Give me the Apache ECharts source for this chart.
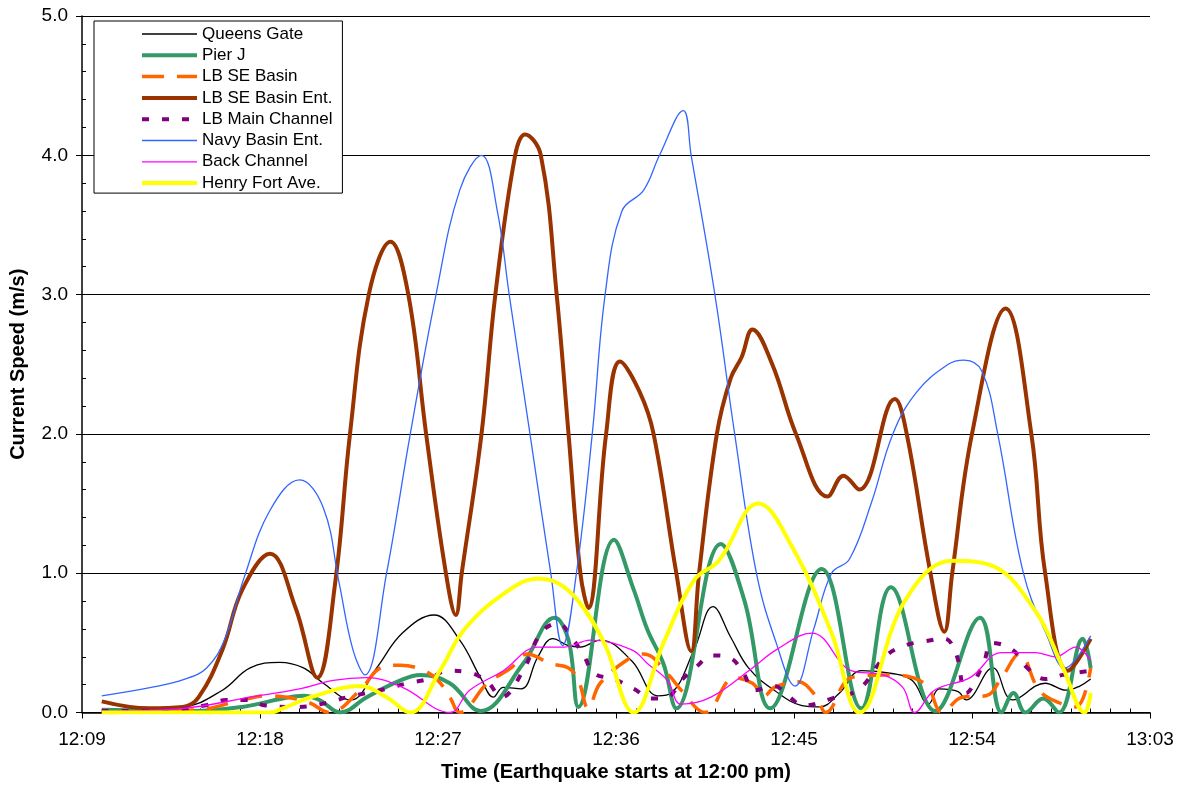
<!DOCTYPE html>
<html>
<head>
<meta charset="utf-8">
<script src="https://cdn.jsdelivr.net/npm/echarts@6/dist/echarts.min.js"></script>
<style>
  html, body { margin: 0; padding: 0; background: #fff; }
  #chart { width: 1186px; height: 791px; }
</style>
</head>
<body>
<div id="chart"></div>
<script>
// minutes after 12:00, speed in m/s
const timeLabels = ['12:09', '12:18', '12:27', '12:36', '12:45', '12:54', '13:03'];
const speedLabels = ['0.0', '1.0', '2.0', '3.0', '4.0', '5.0'];

const queensGate = [[10,0.02],[14.1,0.04],[16.1,0.16],[17.5,0.32],[19.0,0.36],[20.2,0.32],[21.2,0.21],[22.6,0.09],[23.9,0.32],[25.2,0.57],[26.8,0.70],[28.1,0.52],[29.15,0.25],[29.8,0.11],[30.3,0.18],[31.2,0.17],[32.05,0.40],[32.8,0.53],[33.6,0.48],[34.2,0.47],[35.2,0.52],[36.8,0.37],[38.1,0.12],[38.8,0.14],[39.95,0.45],[40.9,0.76],[41.8,0.54],[42.7,0.32],[44.0,0.16],[45.4,0.05],[46.3,0.04],[47.3,0.14],[48.4,0.30],[49.95,0.28],[50.98,0.23],[51.8,0.06],[52.35,0.17],[53.3,0.15],[53.7,0.09],[55.05,0.32],[56.05,0.09],[57.7,0.21],[58.75,0.16],[59.45,0.19],[60,0.24]];

const pierJ = [[10,0.02],[14.6,0.01],[17.1,0.04],[19.15,0.10],[20.2,0.12],[21.0,0.09],[22.05,0.0],[23.4,0.11],[25.1,0.23],[26.1,0.27],[27.6,0.21],[29.15,0.01],[31.3,0.35],[32.9,0.68],[33.6,0.52],[34.1,0.04],[35.9,1.24],[36.9,0.88],[37.6,0.59],[38.4,0.35],[39.05,0.03],[41.3,1.21],[42.5,0.8],[43.8,0.03],[46.4,1.03],[48.4,0.03],[49.9,0.9],[52.15,0.01],[54.4,0.68],[55.5,0.0],[56.1,0.14],[56.7,0.0],[57.6,0.1],[58.4,0.0],[59.6,0.53],[60,0.32]];

const lbSeBasin = [[10,0.0],[14.9,0.02],[17.1,0.09],[18.3,0.12],[19.35,0.11],[20.5,0.07],[21.5,0.0],[23.06,0.16],[24.1,0.32],[25.1,0.34],[26.3,0.30],[27.0,0.23],[27.6,0.11],[28.1,0.0],[29.5,0.21],[30.7,0.32],[31.5,0.42],[32.7,0.35],[33.6,0.32],[34.1,0.23],[34.6,0.03],[35.2,0.21],[36.8,0.40],[37.4,0.42],[38.6,0.28],[39.3,0.16],[40.5,0.0],[42.0,0.25],[42.9,0.21],[43.5,0.12],[44.0,0.18],[45.2,0.22],[46.1,0.12],[46.6,0.0],[47.9,0.25],[49.6,0.27],[51.6,0.21],[52.5,0.0],[53.5,0.11],[54.7,0.12],[55.5,0.25],[56.4,0.42],[57.4,0.16],[58.4,0.07],[59.25,0.04],[60,0.32]];

const lbSeBasinEnt = [[10,0.08],[12.4,0.03],[14.1,0.04],[14.9,0.11],[16.1,0.45],[17.1,0.88],[18.5,1.14],[19.8,0.75],[20.9,0.25],[21.8,0.93],[22.55,2.0],[23.5,3.0],[24.6,3.38],[25.5,3.0],[26.4,2.0],[27.4,1.0],[27.9,0.7],[28.2,1.0],[29.2,2.0],[29.9,3.0],[30.9,4.0],[31.4,4.15],[32.2,4.0],[33.0,3.0],[33.6,2.0],[34.2,1.0],[34.6,0.75],[35.5,2.0],[36.2,2.52],[37.2,2.3],[37.9,2.0],[39.05,1.0],[39.8,0.44],[40.2,1.0],[41.1,2.0],[41.8,2.4],[42.35,2.55],[42.9,2.75],[43.9,2.5],[45.1,2.0],[46.7,1.55],[47.5,1.7],[48.3,1.6],[50.1,2.25],[50.7,2.0],[51.9,1.0],[52.6,0.58],[53.0,1.0],[54.0,2.0],[55.7,2.9],[57.0,2.0],[57.7,1.0],[58.85,0.3],[60,0.53]];

const lbMainChannel = [[10,0.01],[12.9,0.01],[15.2,0.05],[16.3,0.09],[17.3,0.09],[18.3,0.05],[19.9,0.04],[21.4,0.07],[22.4,0.11],[23.4,0.14],[24.4,0.17],[25.45,0.21],[26.5,0.24],[27.5,0.30],[28.5,0.29],[29.5,0.22],[30.2,0.11],[31.3,0.30],[32.2,0.57],[33.06,0.64],[33.8,0.53],[34.4,0.40],[34.9,0.28],[35.9,0.24],[36.9,0.17],[37.8,0.10],[38.6,0.11],[39.3,0.23],[40.0,0.32],[40.9,0.41],[41.8,0.39],[42.45,0.28],[43.0,0.16],[44.0,0.19],[44.7,0.12],[45.5,0.05],[46.9,0.10],[48.3,0.17],[49.6,0.40],[50.6,0.48],[51.6,0.51],[52.6,0.53],[53.2,0.42],[53.7,0.14],[54.6,0.36],[55.0,0.50],[56.05,0.45],[56.8,0.32],[57.7,0.24],[58.6,0.27],[60,0.30]];

const navyBasinEnt = [[10,0.12],[12.5,0.18],[14.2,0.24],[15.3,0.32],[16.2,0.52],[17.2,0.97],[18.5,1.45],[20,1.67],[21.2,1.47],[22,0.93],[22.7,0.45],[23.3,0.27],[24.4,1.0],[25.6,2.0],[26.9,3.0],[28.1,3.75],[29.2,4.0],[30.0,3.6],[30.6,3.0],[31.65,2.0],[32.7,1.0],[33.3,0.48],[34.0,1.0],[34.8,2.0],[35.45,3.0],[36.3,3.6],[37.4,3.75],[38.2,4.0],[39.4,4.32],[39.8,4.0],[41.0,3.0],[42.0,2.0],[43.1,1.0],[44.1,0.5],[45.05,0.19],[46.0,0.6],[46.9,1.0],[47.8,1.1],[48.9,1.5],[50,2.0],[51.2,2.3],[52.8,2.5],[53.6,2.53],[54.5,2.45],[55.3,2.0],[56.6,1.0],[57.8,0.55],[58.7,0.32],[60,0.55]];

const backChannel = [[10,0.01],[14.1,0.03],[17.5,0.11],[20.0,0.17],[21.7,0.23],[23.4,0.25],[25.2,0.18],[27.6,0.0],[28.6,0.16],[30.3,0.30],[32.05,0.47],[33.4,0.47],[34.7,0.52],[36.8,0.45],[37.6,0.35],[38.6,0.23],[39.3,0.06],[40.8,0.11],[42.9,0.32],[44.1,0.45],[45.9,0.57],[47.9,0.30],[49.5,0.27],[50.5,0.18],[51.1,0.0],[52.1,0.16],[53.9,0.25],[55.5,0.43],[57.2,0.43],[58.2,0.40],[59.25,0.47],[60,0.37]];

const henryFortAve = [[10,0.0],[18.5,0.0],[19.15,0.03],[20.8,0.12],[23.05,0.19],[24.4,0.11],[25.6,0.0],[27.1,0.30],[28.3,0.59],[30.3,0.85],[32.05,0.96],[33.05,0.93],[34.1,0.80],[35.4,0.50],[36.9,0.0],[38.4,0.50],[39.95,0.95],[41.2,1.09],[43.2,1.50],[44.9,1.19],[46.9,0.57],[48.3,0.0],[50.6,0.80],[53.0,1.09],[54.9,1.06],[57.2,0.73],[58.6,0.32],[59.7,0.0],[60,0.14]];

const font = 'Arial, "Liberation Sans", sans-serif';

function line(name, data, color, width, type) {
  return {
    name: name,
    type: 'line',
    data: data,
    smooth: 0.4,
    symbol: 'none',
    lineStyle: { color: color, width: width, type: type || 'solid', cap: 'butt' },
    itemStyle: { color: color }
  };
}

const chart = echarts.init(document.getElementById('chart'));
chart.setOption({
  animation: false,
  backgroundColor: '#fff',
  textStyle: { fontFamily: font },
  grid: { left: 82, right: 36, top: 16, bottom: 78.5 },
  legend: {
    orient: 'vertical',
    left: 94,
    top: 21,
    itemWidth: 55,
    itemHeight: 14,
    itemGap: 4.3,
    padding: [4.5, 10, 1.5, 46],
    borderColor: '#000',
    borderWidth: 1,
    backgroundColor: '#fff',
    itemStyle: { opacity: 0 },
    lineStyle: { width: 'inherit', type: 'inherit' },
    textStyle: { fontSize: 17, lineHeight: 17, color: '#000', fontFamily: font },
    data: ['Queens Gate', 'Pier J', 'LB SE Basin', 'LB SE Basin Ent.', 'LB Main Channel',
           'Navy Basin Ent.', 'Back Channel', 'Henry Fort Ave.']
  },
  xAxis: {
    type: 'value',
    min: 9, max: 63, interval: 9,
    name: 'Time (Earthquake starts at 12:00 pm)',
    nameLocation: 'middle',
    nameGap: 50,
    nameTextStyle: { fontSize: 20, fontWeight: 'bold', color: '#000', fontFamily: font },
    axisLine: { lineStyle: { color: '#000', width: 1.5 } },
    axisTick: { inside: false, length: 6, lineStyle: { color: '#000' } },
    minorTick: { show: true, splitNumber: 9, length: -4, lineStyle: { color: '#000' } },
    axisLabel: {
      fontSize: 19, color: '#000', margin: 18, fontFamily: font,
      formatter: v => timeLabels[Math.round((v - 9) / 9)]
    },
    splitLine: { show: false }
  },
  yAxis: {
    type: 'value',
    min: 0, max: 5, interval: 1,
    name: 'Current Speed (m/s)',
    nameLocation: 'middle',
    nameGap: 54,
    nameTextStyle: { fontSize: 20, fontWeight: 'bold', color: '#000', fontFamily: font },
    axisLine: { show: true, lineStyle: { color: '#000', width: 1.5 } },
    axisTick: { show: true, inside: false, length: 6, lineStyle: { color: '#000' } },
    minorTick: { show: true, splitNumber: 5, length: -4, lineStyle: { color: '#000' } },
    axisLabel: {
      fontSize: 19, color: '#000', margin: 14, fontFamily: font,
      formatter: v => speedLabels[Math.round(v)]
    },
    splitLine: { show: true, lineStyle: { color: '#000', width: 1 } }
  },
  series: [
    line('Queens Gate', queensGate, '#000000', 1.3),
    line('Pier J', pierJ, '#339966', 4),
    line('LB SE Basin', lbSeBasin, '#FF6600', 3.5, [22, 13]),
    line('LB SE Basin Ent.', lbSeBasinEnt, '#993300', 4),
    line('LB Main Channel', lbMainChannel, '#800080', 4, [7, 13]),
    line('Navy Basin Ent.', navyBasinEnt, '#3366FF', 1.3),
    line('Back Channel', backChannel, '#FF00FF', 1.3),
    line('Henry Fort Ave.', henryFortAve, '#FFFF00', 4)
  ]
});
</script>
</body>
</html>
